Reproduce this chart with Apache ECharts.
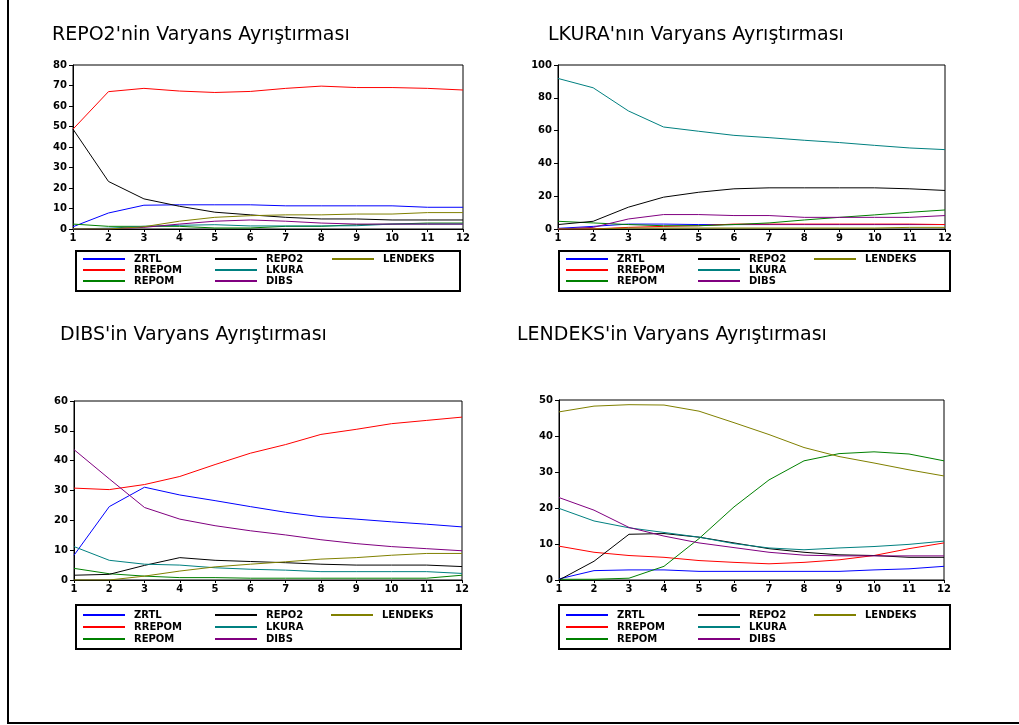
<!DOCTYPE html>
<html lang="tr">
<head>
<meta charset="UTF-8">
<title>Varyans Ayrıştırması</title>
<style>
  html, body { margin: 0; padding: 0; background: #fff; }
  #chart { width: 1019px; height: 725px; }
</style>
</head>
<body>
<div id="chart"></div>
<script src="https://cdn.jsdelivr.net/npm/echarts@6/dist/echarts.min.js"></script>
<script>
// periods on the x axis
const periods = ['1', '2', '3', '4', '5', '6', '7', '8', '9', '10', '11', '12'];
const varNames = ['ZRTL', 'RREPOM', 'REPOM', 'REPO2', 'LKURA', 'DIBS', 'LENDEKS'];
const varColors = ['#0000ff', '#ff0000', '#008000', '#000000', '#008080', '#800080', '#808000'];

// rows follow varNames order
const repo2Decomp = [
    [1.1, 7.8, 11.6, 11.8, 11.8, 11.8, 11.3, 11.3, 11.3, 11.3, 10.6, 10.6],
    [48.7, 67.0, 68.6, 67.3, 66.6, 67.1, 68.6, 69.7, 69.0, 69.0, 68.6, 67.8],
    [2.4, 1.3, 1.3, 1.3, 0.5, 0.5, 1.3, 1.3, 2.1, 2.4, 2.9, 2.9],
    [48.7, 23.2, 14.7, 11.1, 8.2, 6.9, 5.7, 4.9, 4.9, 4.4, 4.4, 4.4],
    [0.0, 0.4, 1.3, 1.8, 2.1, 1.5, 1.5, 1.5, 1.6, 2.4, 2.4, 2.4],
    [0.0, 0.0, 0.8, 2.4, 3.8, 4.4, 3.8, 2.9, 2.4, 2.4, 2.4, 2.4],
    [0.0, 0.0, 1.1, 3.8, 5.7, 6.5, 6.9, 6.9, 7.3, 7.3, 8.0, 8.0]
];
const lkuraDecomp = [
    [0.4, 1.6, 3.0, 3.0, 2.7, 2.7, 2.7, 2.7, 2.7, 2.7, 2.7, 2.7],
    [0.0, 0.0, 1.0, 1.6, 2.0, 3.0, 3.0, 3.0, 3.0, 3.0, 3.0, 2.7],
    [4.7, 3.7, 2.7, 2.0, 2.0, 2.7, 3.7, 5.5, 7.1, 8.6, 10.2, 11.6],
    [2.7, 4.7, 13.3, 19.4, 22.4, 24.5, 25.1, 25.1, 25.1, 25.1, 24.5, 23.5],
    [91.8, 86.1, 72.0, 62.2, 59.6, 57.1, 55.7, 54.1, 52.7, 51.0, 49.4, 48.4],
    [0.0, 1.0, 6.1, 8.8, 8.8, 8.2, 8.2, 7.1, 7.1, 7.1, 7.1, 8.2],
    [0.0, 0.0, 0.6, 0.6, 0.6, 0.6, 0.6, 0.6, 0.6, 0.6, 1.0, 1.0]
];
const dibsDecomp = [
    [8.3, 24.6, 31.1, 28.5, 26.6, 24.6, 22.7, 21.2, 20.4, 19.5, 18.7, 17.8],
    [30.8, 30.3, 32.0, 34.7, 38.7, 42.5, 45.4, 48.8, 50.5, 52.4, 53.5, 54.6],
    [3.9, 2.1, 1.3, 0.8, 0.8, 0.6, 0.6, 0.6, 0.6, 0.6, 0.6, 1.6],
    [1.6, 1.9, 4.9, 7.5, 6.6, 6.2, 5.8, 5.3, 5.0, 5.0, 5.0, 4.5],
    [11.2, 6.6, 5.3, 5.0, 4.1, 3.6, 3.3, 2.8, 2.8, 2.8, 2.8, 2.2],
    [43.7, 33.9, 24.3, 20.4, 18.2, 16.5, 15.1, 13.5, 12.2, 11.2, 10.5, 9.8],
    [0.0, 0.0, 1.3, 3.0, 4.4, 5.3, 6.1, 7.0, 7.5, 8.3, 8.9, 8.9]
];
const lendeksDecomp = [
    [0.3, 2.6, 2.8, 2.8, 2.4, 2.4, 2.4, 2.4, 2.4, 2.8, 3.1, 3.8],
    [9.4, 7.7, 6.8, 6.3, 5.4, 4.9, 4.5, 4.9, 5.6, 6.8, 8.7, 10.3],
    [0.2, 0.2, 0.5, 3.8, 11.5, 20.3, 27.8, 33.1, 35.1, 35.6, 35.0, 33.1],
    [0.0, 5.2, 12.7, 12.9, 11.9, 10.3, 8.7, 7.7, 7.0, 6.8, 6.3, 6.3],
    [19.9, 16.4, 14.5, 13.2, 11.9, 10.1, 8.9, 8.4, 8.9, 9.3, 9.9, 10.8],
    [22.9, 19.4, 14.6, 12.2, 10.3, 9.0, 7.7, 6.9, 6.7, 6.7, 6.7, 6.7],
    [46.7, 48.3, 48.7, 48.6, 46.9, 43.7, 40.4, 36.8, 34.3, 32.5, 30.6, 28.9]
];

const panels = [
    { title: "REPO2'nin Varyans Ayrıştırması", tx: 52, ty: 26, data: repo2Decomp, max: 80, step: 10,
      grid: { left: 73, top: 65, width: 390, height: 164 }, legX: [83, 215, 332], legY: 254, legGap: 1, box: [76, 251, 384, 40] },
    { title: "LKURA'nın Varyans Ayrıştırması", tx: 548, ty: 26, data: lkuraDecomp, max: 100, step: 20,
      grid: { left: 558, top: 65, width: 387, height: 164 }, legX: [566, 698, 814], legY: 254, legGap: 1, box: [559, 251, 391, 40] },
    { title: "DIBS'in Varyans Ayrıştırması", tx: 60, ty: 326, data: dibsDecomp, max: 60, step: 10,
      grid: { left: 74, top: 401, width: 388, height: 179 }, legX: [83, 215, 331], legY: 610, legGap: 2, box: [76, 605, 385, 44] },
    { title: "LENDEKS'in Varyans Ayrıştırması", tx: 517, ty: 326, data: lendeksDecomp, max: 50, step: 10,
      grid: { left: 559, top: 400, width: 385, height: 180 }, legX: [566, 698, 814], legY: 610, legGap: 2, box: [559, 605, 391, 44] }
];

const legendCols = [['ZRTL', 'RREPOM', 'REPOM'], ['REPO2', 'LKURA', 'DIBS'], ['LENDEKS']];
const tickFont = { fontFamily: 'DejaVu Sans', fontSize: 10, fontWeight: 'bold', color: '#000' };

const chart = echarts.init(document.getElementById('chart'));

const option = {
    animation: false,
    backgroundColor: '#fff',
    title: [], grid: [], xAxis: [], yAxis: [], legend: [], series: [],
    graphic: [
        // outer frame: left and bottom edges
        { type: 'line', shape: { x1: 8, y1: 0, x2: 8, y2: 723 }, style: { stroke: '#000', lineWidth: 2 } },
        { type: 'line', shape: { x1: 7, y1: 723, x2: 1019, y2: 723 }, style: { stroke: '#000', lineWidth: 2 } }
    ]
};

panels.forEach((p, i) => {
    option.title.push({
        text: p.title, left: p.tx, top: p.ty, padding: 0,
        textStyle: { fontFamily: 'DejaVu Sans', fontSize: 19, fontWeight: 'normal', color: '#000' }
    });
    option.grid.push(Object.assign({ show: true, borderColor: '#000', borderWidth: 1, backgroundColor: '#fff' }, p.grid));
    option.xAxis.push({
        type: 'category', gridIndex: i, data: periods, boundaryGap: false,
        axisLine: { lineStyle: { color: '#000', width: 1 } },
        axisTick: { show: true, length: 3, lineStyle: { color: '#000' } },
        axisLabel: Object.assign({ margin: 4, interval: 0 }, tickFont),
        splitLine: { show: false }
    });
    option.yAxis.push({
        type: 'value', gridIndex: i, min: 0, max: p.max, interval: p.step,
        axisLine: { show: true, lineStyle: { color: '#000', width: 1 } },
        axisTick: { show: true, length: 4, lineStyle: { color: '#000' } },
        axisLabel: Object.assign({ margin: 6 }, tickFont),
        splitLine: { show: false }
    });
    legendCols.forEach((col, c) => {
        option.legend.push({
            data: col.map(n => ({ name: n, itemStyle: { color: varColors[varNames.indexOf(n)] } })),
            orient: 'vertical', left: p.legX[c], top: p.legY, padding: 0,
            icon: 'rect', itemWidth: 42, itemHeight: 2, itemGap: p.legGap, selectedMode: false,
            textStyle: { fontFamily: 'DejaVu Sans', fontSize: 10, fontWeight: 'bold', color: '#000', padding: [0, 0, 0, 4] }
        });
    });
    option.graphic.push({
        type: 'rect', shape: { x: p.box[0], y: p.box[1], width: p.box[2], height: p.box[3] },
        style: { fill: 'none', stroke: '#000', lineWidth: 2 }, z: 10
    });
    varNames.forEach((name, k) => {
        option.series.push({
            name: name, type: 'line', xAxisIndex: i, yAxisIndex: i,
            data: p.data[k], symbol: 'none', smooth: false,
            lineStyle: { color: varColors[k], width: 1 },
            itemStyle: { color: varColors[k] }
        });
    });
});

chart.setOption(option);
</script>
</body>
</html>
